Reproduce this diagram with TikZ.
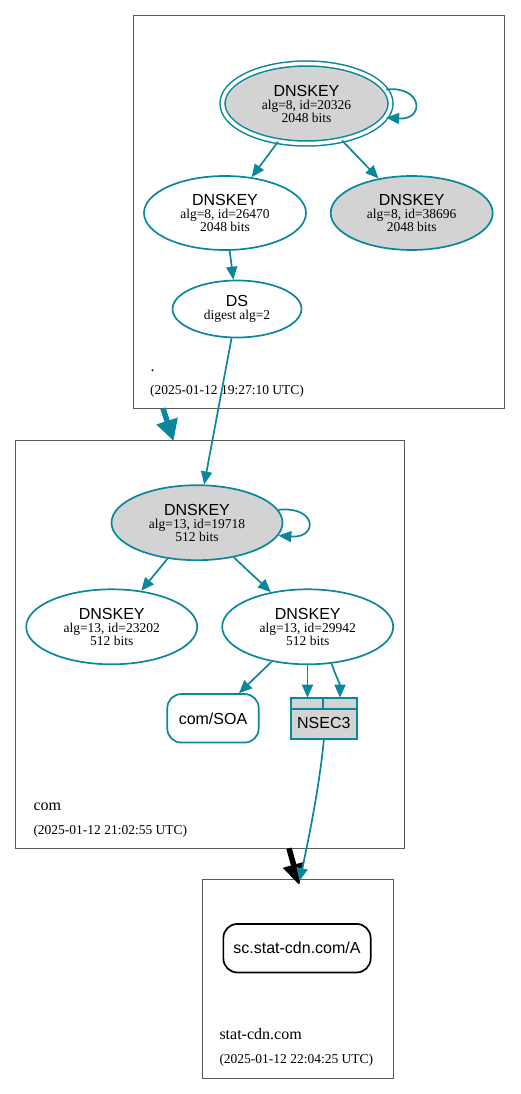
\documentclass[tikz,border=0pt]{standalone}
\usepackage{fontspec}
\setmainfont{Liberation Serif}
\setsansfont{Liberation Sans}
\usetikzlibrary{shapes.geometric, arrows.meta, positioning, fit, backgrounds}
\definecolor{dnsteal}{HTML}{0A879A}
\definecolor{keygray}{HTML}{D3D3D3}

\newcommand{\keytext}[3]{{\sffamily\fontsize{16}{13}\selectfont #1}\\#2\\#3}

\begin{document}
\begin{tikzpicture}[
    x=1pt, y=-1pt,
    zone/.style={rectangle, draw=black!65, line width=0.9pt, inner sep=0pt},
    zonename/.style={anchor=base west, inner sep=0pt, font=\fontsize{16}{18}\selectfont},
    zonedate/.style={anchor=base west, inner sep=0pt, font=\fontsize{13.5}{16}\selectfont},
    key/.style={ellipse, draw=dnsteal, line width=1.7pt, inner sep=0pt, align=center,
        minimum width=171pt, minimum height=75pt, font=\fontsize{13.5}{13}\selectfont},
    ksk/.style={key, fill=keygray},
    rrset/.style={rectangle, draw=dnsteal, line width=1.7pt, rounded corners=14pt,
        inner sep=0pt, minimum height=48.5pt, font=\sffamily\fontsize{16}{18}\selectfont},
    edge/.style={draw=dnsteal, line width=1.7pt, -{Triangle[length=13pt, width=11pt]}},
    delegation/.style={line width=5.5pt, -{Triangle[length=21pt, width=21pt]}}
]
\useasboundingbox (0,0) rectangle (520,1094);

% zones
\node[zone, minimum width=370.7pt, minimum height=392.6pt] (rootzone) at (318.65,212) {};
\node[zone, minimum width=388.6pt, minimum height=408.3pt] (comzone) at (210,644.15) {};
\node[zone, minimum width=190.6pt, minimum height=198.7pt] (cdnzone) at (298,978.65) {};

\node[zonename] (rootname) at (150.5,371) {.};
\node[zonedate] (rootdate) at (150,394) {(2025-01-12 19:27:10 UTC)};
\node[zonename] (comname) at (33.3,810) {com};
\node[zonedate] (comdate) at (33.3,834) {(2025-01-12 21:02:55 UTC)};
\node[zonename] (cdnname) at (219.3,1039) {stat-cdn.com};
\node[zonedate] (cdndate) at (219.3,1063) {(2025-01-12 22:04:25 UTC)};

% root zone
\node[ksk, minimum width=168pt, minimum height=80pt, line width=1.5pt, double=white, double distance=3.5pt]
    (k20326) at (306.5,103.5) {\keytext{DNSKEY}{alg=8, id=20326}{2048 bits}};
\node[key, minimum width=162pt, minimum height=74pt] (k26470) at (225,213)
    {\keytext{DNSKEY}{alg=8, id=26470}{2048 bits}};
\node[ksk, minimum width=162pt, minimum height=74pt] (k38696) at (411.7,213)
    {\keytext{DNSKEY}{alg=8, id=38696}{2048 bits}};
\node[key, minimum width=129pt, minimum height=57pt] (ds) at (237,309)
    {{\sffamily\fontsize{16}{13}\selectfont DS}\\[0.7pt]digest alg=2};

% com zone
\node[ksk] (k19718) at (197,522.7) {\keytext{DNSKEY}{alg=13, id=19718}{512 bits}};
\node[key] (k23202) at (111.7,626.8) {\keytext{DNSKEY}{alg=13, id=23202}{512 bits}};
\node[key] (k29942) at (307.7,626.8) {\keytext{DNSKEY}{alg=13, id=29942}{512 bits}};
\node[rrset, minimum width=91.4pt] (soa) at (213,718.3) {com/SOA};
\node[rectangle, draw=dnsteal, line width=1.7pt, fill=keygray, inner sep=0pt,
    minimum width=65.7pt, minimum height=41.3pt, text height=30pt, text depth=10pt,
    font=\sffamily\fontsize{16}{18}\selectfont] (nsec) at (323.8,718.3) {NSEC3};
\draw[draw=dnsteal, line width=1.7pt] ([yshift=-12.3pt]nsec.north west) -- ([yshift=-12.3pt]nsec.north east);
\draw[draw=dnsteal, line width=1.7pt] ([xshift=-0.5pt]nsec.north) -- ([xshift=-0.5pt, yshift=-12.3pt]nsec.north);
\coordinate (nsecleft) at (307.5,697.7);
\coordinate (nsecright) at (340,697.7);

% stat-cdn.com zone
\node[rrset, draw=black, minimum width=147.3pt] (arec) at (297,948.2) {sc.stat-cdn.com/A};

% edges
\draw[edge] (k20326.10) .. controls +(37,-4) and +(39,3) .. (k20326.-10);
\draw[edge] (k20326) -- (k26470);
\draw[edge] (k20326) -- (k38696);
\draw[edge] (k26470) -- (ds);
\draw[edge] (ds) -- (k19718);
\draw[edge] (k19718.9) .. controls +(39,-4) and +(40,3) .. (k19718.-9);
\draw[edge] (k19718) -- (k23202);
\draw[edge] (k19718) -- (k29942);
\draw[edge] (k29942) -- (soa);
\draw[edge] (k29942.south -| nsecleft) -- (nsecleft);
\draw[edge] (k29942.-57) .. controls +(4,12) and +(0,-14) .. (nsecright);

\coordinate (rootexit) at (163,408.3);
\coordinate (comentry) at (173.5,441);
\coordinate (comexit) at (289,848.3);
\coordinate (cdnentry) at (299.3,885);
\coordinate (cdnlink) at (299.3,881);
\draw[delegation, dnsteal] (rootexit) -- (comentry);
\draw[delegation, black] (comexit) -- (cdnentry);
\draw[edge] (nsec.south) .. controls +(-4,45) and +(8,-35) .. (cdnlink);

\end{tikzpicture}
\end{document}
